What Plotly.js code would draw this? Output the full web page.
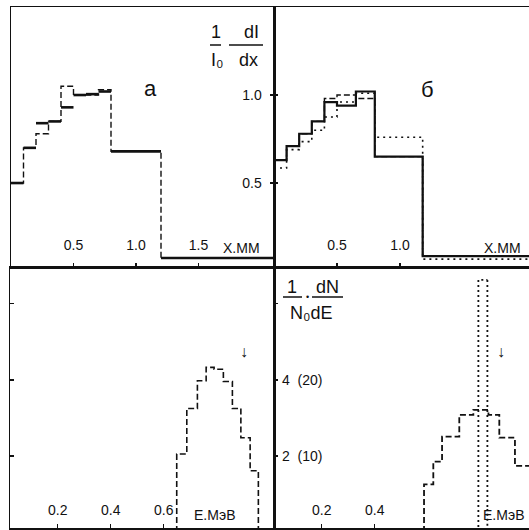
<!DOCTYPE html>
<html><head><meta charset="utf-8">
<script src="https://cdn.plot.ly/plotly-3.0.1.min.js"></script>
<style>html,body{margin:0;padding:0;background:#fff}</style>
</head><body><div id="chart" style="width:529px;height:530px"></div>
<script>
// ---- Panel а : 1/I0 dI/dx vs X, mm ----
const aEdges  = [0, 0.1, 0.2, 0.3, 0.4, 0.5, 0.6, 0.7, 0.8, 1.2, 2.11];
const aSolid  = [0.50, 0.70, 0.84, 0.85, 0.93, 1.00, 1.005, 1.02, 0.68, 0.074];
const aDashed = [0.50, 0.70, 0.78, 0.85, 1.05, 1.00, 1.00, 1.03, 0.68, 0.074];
const aTickVals = [0.5, 1.0, 1.5];
const aTickText = ["0.5", "1.0", "1.5"];
const aYTickVals = [0.5, 1.0];
const aYTickText = ["0.5", "1.0"];

// ---- Panel б ----
const bEdges  = [0, 0.1, 0.2, 0.3, 0.4, 0.5, 0.65, 0.8, 1.18, 2.03];
const bSolid  = [0.63, 0.71, 0.78, 0.85, 0.96, 0.94, 1.02, 0.65, 0.085];
const bDashed = [0.63, 0.71, 0.78, 0.85, 0.98, 1.00, 0.98, 0.65, 0.085];
const bDotted = [0.585, 0.69, 0.735, 0.80, 0.875, 0.96, 1.01, 0.76, 0.068];
const bTickVals = [0.5, 1.0];
const bTickText = ["0.5", "1.0"];

// ---- Bottom left : 1/N0 dN/dE vs E, MeV ----
const cEdges  = [0.649, 0.687, 0.727, 0.760, 0.790, 0.825, 0.859, 0.891, 0.926, 0.957];
const cDashed = [2.05, 3.25, 3.98, 4.33, 4.28, 3.96, 3.25, 2.48, 1.61];
const cTickVals = [0.2, 0.4, 0.6];
const cTickText = ["0.2", "0.4", "0.6"];

// ---- Bottom right ----
const dEdges  = [0.586, 0.621, 0.654, 0.719, 0.772, 0.829, 0.870, 0.929, 0.99];
const dDashed = [1.25, 1.85, 2.51, 3.08, 3.21, 3.08, 2.48, 1.74];
const dSpikeEdges = [0.791, 0.825];
const dSpikeValue = [6.63];
const dTickVals = [0.2, 0.4];
const dTickText = ["0.2", "0.4"];
const eYTickVals = [2, 4, 6];
const eYLabelVals = [2, 4];
const eYLabelText = ["2\u00a0\u00a0(10)", "4\u00a0\u00a0(20)"];

// arrow markers (E, MeV)
const arrowE = [0.903, 0.877];
const arrowY = [4.75, 4.75];

const INK = '#111';
const FONT = 'Liberation Sans, DejaVu Sans, Arial, sans-serif';

function steps(edges, vals, closeLeft, closeRight, base) {
  const x = [], y = [];
  if (closeLeft) { x.push(edges[0]); y.push(base); }
  for (let i = 0; i < vals.length; i++) { x.push(edges[i]); y.push(vals[i]); }
  x.push(edges[vals.length]); y.push(vals[vals.length - 1]);
  if (closeRight) { x.push(edges[vals.length]); y.push(base); }
  return {x, y};
}
function flats(edges, vals) {
  const x = [], y = [];
  for (let i = 0; i < vals.length; i++) {
    x.push(edges[i], edges[i + 1], null);
    y.push(vals[i], vals[i], null);
  }
  return {x, y};
}
function tr(d, xa, ya, width, dash, shape) {
  return {x: d.x, y: d.y, xaxis: xa, yaxis: ya, mode: 'lines', hoverinfo: 'skip',
    line: {color: INK, width: width, dash: dash, shape: shape || 'hv'}, connectgaps: false};
}

const data = [
  tr(steps(aEdges, aDashed, false, false, 0), 'x', 'y', 1.4, '6px,3px'),
  tr(flats(aEdges, aSolid), 'x', 'y', 2.6, 'solid', 'linear'),
  tr(steps(bEdges, bDotted, false, false, 0), 'x2', 'y2', 1.6, '2px,4px'),
  tr(steps(bEdges, bDashed, false, false, 0), 'x2', 'y2', 1.4, '6px,3px'),
  tr(steps(bEdges, bSolid, false, false, 0), 'x2', 'y2', 2.2, 'solid'),
  tr(steps(cEdges, cDashed, true, true, 0), 'x3', 'y3', 1.6, '6px,3px'),
  tr(steps(dEdges, dDashed, true, true, 0), 'x4', 'y4', 1.8, '6px,3px'),
  tr(steps(dSpikeEdges, dSpikeValue, true, true, 0), 'x4', 'y4', 1.8, '2px,3px')
];

const frame = {showline: true, linecolor: INK, linewidth: 1.5, showgrid: false, zeroline: false,
  fixedrange: true, ticks: 'inside', ticklen: 4, tickcolor: INK, tickwidth: 1.2,
  tickfont: {family: FONT, size: 14, color: INK}};
const topDom = [263/530, 523/530];
const botDom = [2/530, 263/530];
const yRangeTop = [0.023, 1.5];
const yRangeBot = [0.105, 6.97];

const layout = {
  width: 529, height: 530, margin: {l: 0, r: 0, t: 0, b: 0},
  paper_bgcolor: '#fff', plot_bgcolor: '#fff', showlegend: false,
  font: {family: FONT, color: INK},
  xaxis:  Object.assign({}, frame, {domain: [11/529, 274/529], range: [0, 2.104], anchor: 'y', mirror: true,
           tickvals: aTickVals, ticktext: aTickText, ticklabelposition: 'inside', ticklabelstandoff: 10}),
  yaxis:  Object.assign({}, frame, {domain: topDom, range: yRangeTop, anchor: 'x', side: 'right', mirror: true,
           tickvals: aYTickVals, ticktext: aYTickText, ticklabelposition: 'inside', ticklabelstandoff: 8}),
  xaxis2: Object.assign({}, frame, {domain: [274/529, 1], range: [0, 2.024], anchor: 'y2', mirror: true,
           tickvals: bTickVals, ticktext: bTickText, ticklabelposition: 'inside', ticklabelstandoff: 10}),
  yaxis2: Object.assign({}, frame, {domain: topDom, range: yRangeTop, anchor: 'x2', side: 'left',
           tickvals: aYTickVals, showticklabels: false}),
  xaxis3: Object.assign({}, frame, {domain: [10/529, 274/529], range: [0.02, 1.016], anchor: 'y3', mirror: true,
           tickvals: cTickVals, ticktext: cTickText, ticklabelposition: 'inside', ticklabelstandoff: 6}),
  yaxis3: Object.assign({}, frame, {domain: botDom, range: yRangeBot, anchor: 'x3', mirror: true,
           tickvals: eYTickVals, showticklabels: false}),
  xaxis4: Object.assign({}, frame, {domain: [274/529, 1], range: [0.02, 0.982], anchor: 'y4', mirror: true,
           tickvals: dTickVals, ticktext: dTickText, ticklabelposition: 'inside', ticklabelstandoff: 6}),
  yaxis4: Object.assign({}, frame, {domain: botDom, range: yRangeBot, anchor: 'x4', side: 'left',
           tickvals: eYTickVals, showticklabels: false}),
  annotations: [],
  shapes: []
};

function px(x) { return x / 529; }
function py(y) { return 1 - y / 530; }
function txt(t, x, y, size, anchor) {
  layout.annotations.push({text: t, x: px(x), y: py(y), xref: 'paper', yref: 'paper',
    xanchor: anchor || 'center', yanchor: 'middle', showarrow: false,
    font: {family: FONT, size: size, color: INK}});
}
function bar(x0, x1, y) {
  layout.shapes.push({type: 'line', xref: 'paper', yref: 'paper', x0: px(x0), x1: px(x1), y0: py(y), y1: py(y),
    line: {color: INK, width: 1.5}});
}

// y labels of the energy spectra (on the axis of the right-hand panel)
eYLabelVals.forEach((v, i) => {
  layout.annotations.push({text: eYLabelText[i], x: px(280), y: v, xref: 'paper', yref: 'y4',
    xanchor: 'left', yanchor: 'middle', showarrow: false, font: {family: FONT, size: 14, color: INK}});
});

// axis names
txt('X.MM', 241, 248, 14);
txt('X.MM', 502, 248, 14);
txt('E.МэВ', 215, 515, 14);
txt('E.МэВ', 504, 515, 14);
// panel letters
txt('а', 150, 89, 22);
txt('б', 427, 90, 22);
// fraction 1/I0 dI/dx
txt('1', 216, 32, 18);
txt('dI', 251, 32, 18);
bar(210, 221, 45); bar(229, 263, 45);
txt('I₀', 217, 60, 18);
txt('dx', 248, 60, 18);
// fraction 1/N0 dN/dE
txt('1', 292, 287, 18);
txt('dN', 327, 287, 18);
bar(283, 302, 297); bar(312, 343, 297);
txt('•', 307, 297, 9);
txt('N₀dE', 288, 313, 18, 'left');

// arrows (energy markers)
layout.annotations.push({text: '↓', x: arrowE[0], y: arrowY[0], xref: 'x3', yref: 'y3', showarrow: false,
  xanchor: 'center', yanchor: 'middle', font: {family: FONT, size: 16, color: INK}});
layout.annotations.push({text: '↓', x: arrowE[1], y: arrowY[1], xref: 'x4', yref: 'y4', showarrow: false,
  xanchor: 'center', yanchor: 'middle', font: {family: FONT, size: 16, color: INK}});

Plotly.newPlot('chart', data, layout, {staticPlot: true, displayModeBar: false});
</script>
</body></html>
